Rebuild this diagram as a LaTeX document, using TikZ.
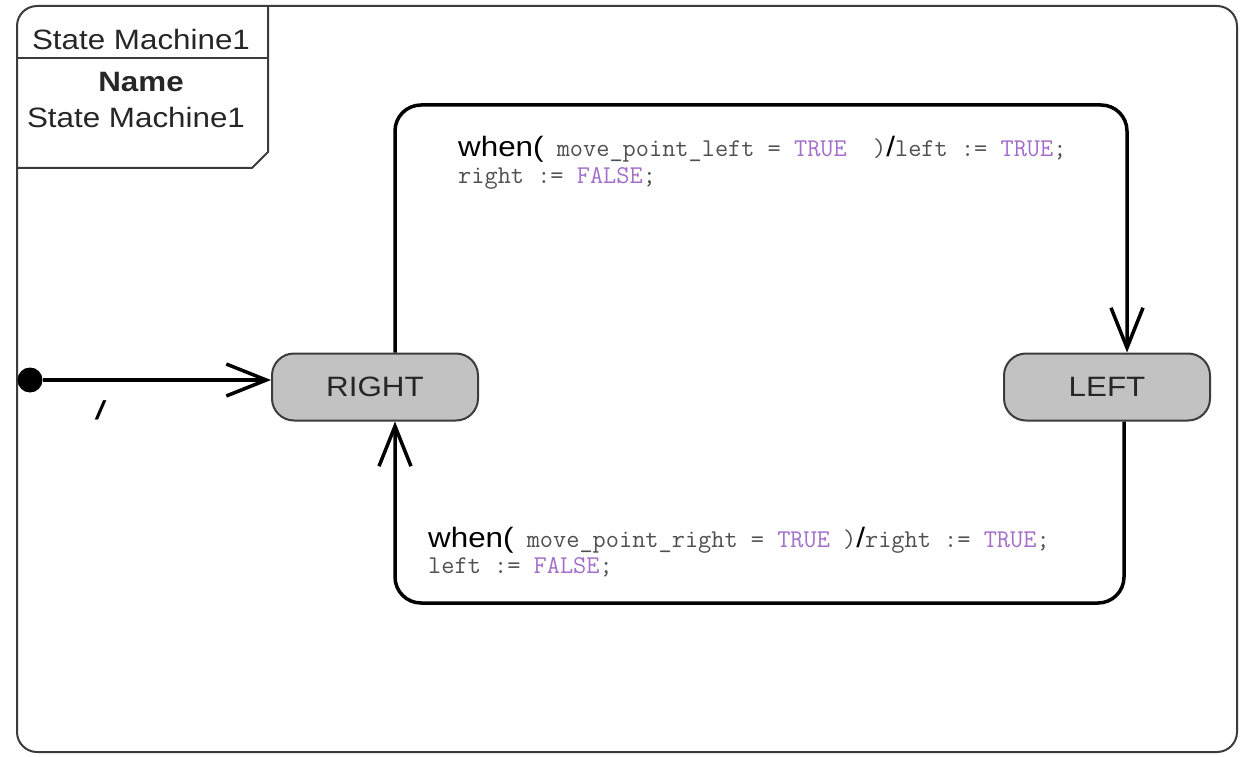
\documentclass[tikz,border=0pt]{standalone}
\usepackage{fontspec}
\setmainfont{Liberation Sans}[FakeStretch=1.12]
\usetikzlibrary{arrows.meta}
\definecolor{framegray}{HTML}{3C3C3C}
\definecolor{statefill}{HTML}{C2C2C2}
\definecolor{codegray}{HTML}{505050}
\definecolor{kwpurple}{HTML}{A46FCB}
\newcommand\bigsans{\fontsize{28}{32}\selectfont}
\newcommand\cd{\ttfamily\fontsize{25.6}{27}\selectfont\color{codegray}}
\newcommand\kw[1]{{\color{kwpurple}#1}}
\tikzset{
  frame/.style={draw=framegray, line width=2pt},
  statebox/.style={draw=framegray, line width=2pt, fill=statefill, rounded corners=22pt,
    minimum width=206pt, minimum height=67pt, inner sep=0pt, font=\bigsans, text=black!85},
  trans/.style={draw=black, line width=3.5pt, rounded corners=26pt},
  tip/.style={-{Straight Barb[length=40pt,width=32pt,line width=3.5pt]}},
  lbl/.style={anchor=base west, inner sep=0pt},
  tabtext/.style={anchor=base, inner sep=0pt, font=\bigsans, text=black!85}
}
\begin{document}
\begin{tikzpicture}[x=1pt,y=-1pt]
\useasboundingbox (0,0) rectangle (1243,757);
% enclosing state machine frame
\draw[frame, rounded corners=20pt] (17,6) rectangle (1237,752);
% name tab
\draw[frame] (17,58) -- (268,58);
\draw[frame] (268,6) -- (268,152) -- (252,168) -- (17,168);
\node[tabtext] (title) at (141,50) {State Machine1};
\node[tabtext, font=\bigsans\bfseries] (namekey) at (141,92) {Name};
\node[tabtext] (nameval) at (136,128) {State Machine1};
% states
\node[statebox] (R) at (375,387) {RIGHT};
\node[statebox] (L) at (1107,387) {LEFT};
% initial pseudostate
\node[circle, fill=black, minimum size=25pt, inner sep=0pt] (init) at (30,380) {};
\draw[trans, tip] (init) -- (R.west |- init);
\node[inner sep=0pt, font=\fontsize{26}{28}\selectfont\bfseries\itshape] (initlbl) at (100,410) {/};
% transitions
\coordinate (a1) at (395,105);
\coordinate (a2) at (1127,105);
\coordinate (b1) at (1124,603);
\coordinate (b2) at (395,603);
\draw[trans, tip] ([xshift=20pt]R.north) -- (a1) -- (a2) -- (a2 |- L.north);
\draw[trans, tip] (b1 |- L.south) -- (b1) -- (b2) -- (b2 |- R.south);
% transition labels
\node[lbl] (t1a) at (458,157) {{\bigsans when(}{\cd\ move\_point\_left = \kw{TRUE}\ \ )}{\bigsans /}{\cd left := \kw{TRUE};}};
\node[lbl] (t1b) at (458,184) {\cd right := \kw{FALSE};};
\node[lbl] (t2a) at (428,547) {{\bigsans when(}{\cd\ move\_point\_right = \kw{TRUE} )}{\bigsans /}{\cd right := \kw{TRUE};}};
\node[lbl] (t2b) at (428,573) {\cd left := \kw{FALSE};};
\end{tikzpicture}
\end{document}
